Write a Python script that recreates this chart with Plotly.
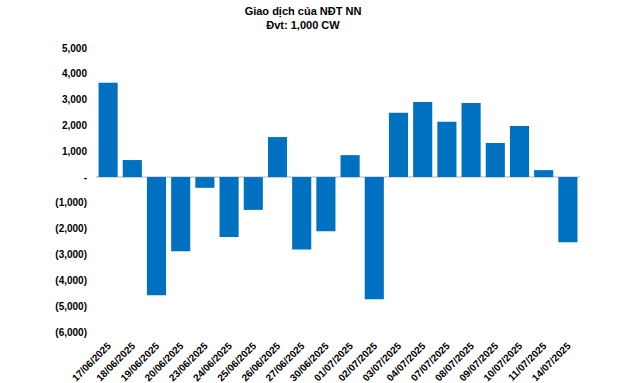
import plotly.graph_objects as go

dates = ["17/06/2025", "18/06/2025", "19/06/2025", "20/06/2025", "23/06/2025",
         "24/06/2025", "25/06/2025", "26/06/2025", "27/06/2025", "30/06/2025",
         "01/07/2025", "02/07/2025", "03/07/2025", "04/07/2025", "07/07/2025",
         "08/07/2025", "09/07/2025", "10/07/2025", "11/07/2025", "14/07/2025"]
values = [3650, 660, -4580, -2870, -415, -2320, -1270, 1550, -2800, -2100,
          850, -4730, 2490, 2910, 2140, 2870, 1320, 1980, 270, -2520]

ytick_vals = [5000, 4000, 3000, 2000, 1000, 0, -1000, -2000, -3000, -4000, -5000, -6000]
ytick_text = ["5,000", "4,000", "3,000", "2,000", "1,000", "-", "(1,000)", "(2,000)",
              "(3,000)", "(4,000)", "(5,000)", "(6,000)"]

title_text = "Giao dịch của NĐT NN<br>Đvt: 1,000 CW"

fig = go.Figure(go.Bar(x=dates, y=values, marker_color="#0070C0", marker_line_width=0))

fig.update_layout(
    width=640, height=383,
    margin=dict(l=96, r=60, t=48, b=51),
    paper_bgcolor="white", plot_bgcolor="white",
    bargap=0.21,
    showlegend=False,
    font=dict(family="Liberation Sans, Arial, sans-serif", size=10, color="#000000", weight="bold"),
    title=dict(text=title_text, x=303 / 640, xanchor="center", xref="container",
               y=1 - 14.5 / 383, yanchor="top", yref="container", automargin=False,
               font=dict(size=11, family="Liberation Sans, Arial, sans-serif", weight="bold")),
)
fig.update_yaxes(
    range=[-6000, 5000], tickvals=ytick_vals, ticktext=ytick_text,
    showgrid=False, zeroline=True, zerolinecolor="#D9D9D9", zerolinewidth=1.5,
    showline=False, ticks="", ticklabelstandoff=8, automargin=False,
    tickfont=dict(size=10, weight="bold"),
)
fig.update_xaxes(
    type="category", tickangle=-45, showgrid=False, showline=False, ticks="",
    tickfont=dict(size=10, weight="bold"), ticklabelstandoff=5, automargin=False,
)

fig.write_html("out.html", config={"displayModeBar": False},
               post_script="document.body.style.margin='0';document.body.style.overflow='hidden';")
